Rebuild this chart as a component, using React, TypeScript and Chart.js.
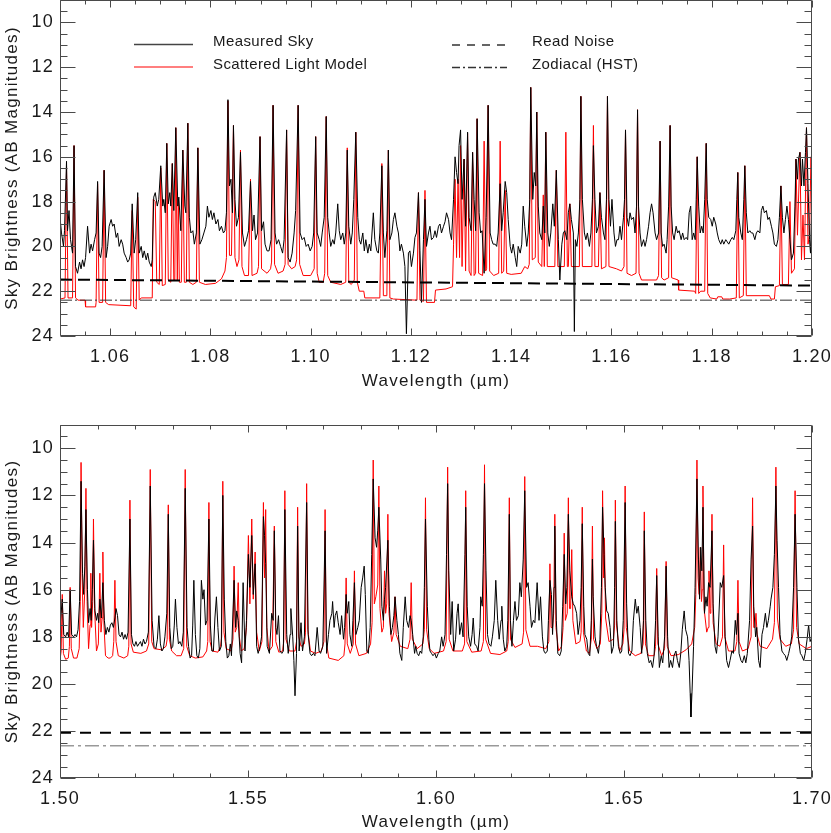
import React, { useEffect, useRef } from 'react';
import { Chart, registerables } from 'chart.js';

Chart.register(...registerables);

// ---------- axes ----------
const yRange = [9, 24];
const yTickLabels = [10, 12, 14, 16, 18, 20, 22, 24];
const topXRange = [1.05, 1.2];
const topXTickLabels = [1.06, 1.08, 1.1, 1.12, 1.14, 1.16, 1.18, 1.2];
const bottomXRange = [1.5, 1.7];
const bottomXTickLabels = [1.5, 1.55, 1.6, 1.65, 1.7];

const legendLabels = ['Measured Sky', 'Scattered Light Model', 'Read Noise', 'Zodiacal (HST)'];
const yTitle = 'Sky Brightness (AB Magnitudes)';
const xTitle = 'Wavelength (\u00b5m)';

// ---------- top panel (1.05 - 1.20 um) ----------
const topMeasured = [
[1.0500,18.7],[1.0503,19.4],[1.0507,20.0],[1.0509,19.3],[1.0513,16.2],[1.0515,19.3],[1.0518,18.4],[1.0521,19.7],[1.0525,20.3],[1.0528,15.5],
[1.0531,20.9],[1.0535,21.2],[1.0539,20.7],[1.0542,21.0],[1.0545,20.6],[1.0548,20.9],[1.0551,20.5],[1.0555,19.1],[1.0559,20.3],[1.0562,19.9],
[1.0565,20.2],[1.0569,19.7],[1.0572,19.4],[1.0575,17.1],[1.0578,20.3],[1.0581,20.5],[1.0584,20.0],[1.0588,16.6],[1.0592,20.5],[1.0595,20.0],
[1.0598,19.1],[1.0602,18.8],[1.0605,19.1],[1.0608,19.0],[1.0612,19.6],[1.0615,19.4],[1.0618,20.0],[1.0622,19.7],[1.0625,19.9],[1.0628,20.3],
[1.0632,20.5],[1.0635,20.7],[1.0638,20.6],[1.0641,20.3],[1.0644,18.1],[1.0648,20.3],[1.0651,19.7],[1.0655,17.6],[1.0658,20.3],[1.0662,20.0],
[1.0665,20.5],[1.0668,20.2],[1.0672,20.6],[1.0675,20.3],[1.0678,20.7],[1.0682,20.9],[1.0684,20.6],[1.0687,17.8],[1.0690,17.6],[1.0694,18.2],
[1.0697,17.9],[1.0701,16.4],[1.0705,18.2],[1.0707,17.9],[1.0710,18.5],[1.0713,15.4],[1.0716,18.1],[1.0719,17.6],[1.0721,18.2],[1.0724,16.3],
[1.0727,18.4],[1.0731,14.7],[1.0735,18.2],[1.0737,17.8],[1.0741,19.3],[1.0745,15.7],[1.0749,18.2],[1.0751,18.5],[1.0755,14.5],[1.0758,18.7],
[1.0761,19.4],[1.0765,19.3],[1.0768,19.9],[1.0772,19.4],[1.0775,15.6],[1.0779,19.9],[1.0783,19.7],[1.0787,19.4],[1.0791,19.1],[1.0794,18.2],
[1.0797,18.7],[1.0801,18.4],[1.0804,18.8],[1.0807,18.5],[1.0811,19.0],[1.0815,18.8],[1.0818,19.3],[1.0822,19.1],[1.0826,19.4],[1.0829,19.3],
[1.0832,18.5],[1.0835,13.45],[1.0838,17.3],[1.0841,17.0],[1.0844,18.5],[1.0846,14.6],[1.0849,17.9],[1.0852,19.1],[1.0856,18.7],[1.0860,15.8],
[1.0864,19.4],[1.0868,20.0],[1.0872,19.7],[1.0876,19.3],[1.0880,17.1],[1.0884,19.3],[1.0887,18.6],[1.0890,19.7],[1.0894,19.4],[1.0899,15.1],
[1.0902,19.3],[1.0906,18.9],[1.0909,19.9],[1.0913,20.2],[1.0917,20.2],[1.0921,19.7],[1.0925,13.7],[1.0929,19.4],[1.0932,19.9],[1.0936,19.7],
[1.0940,20.0],[1.0944,20.3],[1.0947,19.7],[1.0952,14.8],[1.0955,20.5],[1.0959,20.7],[1.0963,20.3],[1.0967,19.4],[1.0970,18.4],[1.0975,13.7],
[1.0979,19.4],[1.0983,19.7],[1.0987,19.6],[1.0991,20.0],[1.0995,19.9],[1.0999,20.2],[1.1003,20.0],[1.1006,19.4],[1.1010,15.1],[1.1013,19.4],
[1.1017,19.7],[1.1020,20.0],[1.1023,19.4],[1.1027,18.7],[1.1031,14.2],[1.1034,18.7],[1.1037,19.4],[1.1040,20.0],[1.1044,19.7],[1.1047,19.9],
[1.1050,19.4],[1.1054,18.1],[1.1057,19.3],[1.1060,19.7],[1.1064,19.4],[1.1067,19.9],[1.1070,19.4],[1.1073,15.7],[1.1076,19.1],[1.1080,19.9],
[1.1083,19.4],[1.1086,17.9],[1.1090,14.9],[1.1094,18.7],[1.1097,19.7],[1.1100,19.9],[1.1104,19.4],[1.1107,20.2],[1.1110,19.7],[1.1114,20.3],
[1.1117,19.9],[1.1120,20.2],[1.1125,18.5],[1.1128,19.7],[1.1132,20.2],[1.1135,20.3],[1.1138,19.4],[1.1142,16.4],[1.1145,19.4],[1.1148,20.5],
[1.1152,19.3],[1.1155,15.7],[1.1158,19.7],[1.1162,19.4],[1.1165,18.8],[1.1168,18.5],[1.1172,19.1],[1.1175,19.4],[1.1178,20.2],[1.1181,19.9],
[1.1185,20.3],[1.1188,20.9],[1.1191,23.9],[1.1195,20.3],[1.1198,20.2],[1.1201,20.9],[1.1205,20.3],[1.1208,19.6],[1.1211,19.4],[1.1215,17.6],
[1.1218,20.2],[1.1221,22.5],[1.1225,19.7],[1.1228,17.9],[1.1231,20.0],[1.1235,19.4],[1.1238,19.1],[1.1241,19.7],[1.1245,19.6],[1.1248,19.3],
[1.1251,19.6],[1.1255,19.1],[1.1258,19.0],[1.1261,19.4],[1.1265,19.1],[1.1268,18.9],[1.1271,18.5],[1.1275,18.8],[1.1278,19.4],[1.1281,19.7],
[1.1285,17.9],[1.1288,16.0],[1.1291,16.7],[1.1294,17.2],[1.1296,15.5],[1.1299,14.8],[1.1302,17.9],[1.1306,16.1],[1.1309,19.1],[1.1313,14.9],
[1.1316,18.7],[1.1320,19.3],[1.1323,15.8],[1.1326,17.9],[1.1329,19.3],[1.1332,14.3],[1.1336,18.5],[1.1339,19.4],[1.1342,19.3],[1.1346,21.2],
[1.1350,18.7],[1.1354,13.7],[1.1358,19.4],[1.1361,19.7],[1.1364,19.9],[1.1368,19.9],[1.1371,20.0],[1.1374,19.4],[1.1378,17.2],[1.1381,19.3],
[1.1384,18.5],[1.1388,17.1],[1.1391,17.6],[1.1394,18.8],[1.1398,20.0],[1.1401,20.3],[1.1404,19.9],[1.1408,20.5],[1.1411,20.9],[1.1414,20.0],
[1.1418,20.3],[1.1421,19.9],[1.1424,18.2],[1.1427,19.1],[1.1431,20.0],[1.1434,19.4],[1.1437,17.9],[1.1439,12.9],[1.1443,17.9],[1.1446,16.7],
[1.1449,17.3],[1.1451,14.0],[1.1454,18.2],[1.1457,19.4],[1.1461,19.7],[1.1464,18.2],[1.1467,19.4],[1.1469,14.9],[1.1473,19.4],[1.1476,20.0],
[1.1479,19.4],[1.1483,18.1],[1.1486,19.1],[1.1490,16.6],[1.1494,19.7],[1.1497,21.5],[1.1501,19.9],[1.1504,19.4],[1.1507,19.3],[1.1511,19.7],
[1.1514,18.5],[1.1517,18.1],[1.1520,18.8],[1.1524,19.4],[1.1526,23.8],[1.1528,19.7],[1.1531,20.0],[1.1534,19.4],[1.1537,17.9],[1.1539,13.3],
[1.1542,17.9],[1.1546,19.4],[1.1549,19.7],[1.1552,19.4],[1.1556,20.0],[1.1559,19.4],[1.1562,17.9],[1.1564,15.5],[1.1567,17.9],[1.1570,19.4],
[1.1574,19.1],[1.1577,17.6],[1.1580,18.7],[1.1584,19.4],[1.1587,19.7],[1.1590,17.9],[1.1592,13.3],[1.1595,17.9],[1.1598,19.1],[1.1601,17.9],
[1.1605,19.4],[1.1608,20.0],[1.1611,19.7],[1.1614,19.7],[1.1617,19.1],[1.1620,19.7],[1.1624,18.7],[1.1626,17.9],[1.1628,14.8],[1.1631,18.7],
[1.1634,19.1],[1.1637,18.5],[1.1640,18.8],[1.1644,18.7],[1.1647,19.4],[1.1650,18.2],[1.1652,13.9],[1.1654,18.2],[1.1657,19.4],[1.1660,20.0],
[1.1664,19.7],[1.1667,20.0],[1.1670,19.7],[1.1674,19.1],[1.1677,18.5],[1.1680,18.1],[1.1683,18.5],[1.1687,19.4],[1.1690,19.7],[1.1694,19.4],
[1.1697,15.3],[1.1699,19.4],[1.1702,20.0],[1.1705,19.9],[1.1709,20.3],[1.1711,19.7],[1.1714,18.2],[1.1717,14.6],[1.1719,18.2],[1.1722,19.4],
[1.1725,19.7],[1.1729,19.1],[1.1732,19.4],[1.1735,19.3],[1.1739,19.7],[1.1742,19.4],[1.1745,19.7],[1.1749,19.6],[1.1752,19.7],[1.1755,18.5],
[1.1758,18.2],[1.1761,19.7],[1.1764,19.4],[1.1767,19.7],[1.1769,17.9],[1.1771,16.0],[1.1774,18.2],[1.1777,19.4],[1.1780,19.1],[1.1783,19.4],
[1.1786,17.9],[1.1789,15.4],[1.1791,17.9],[1.1794,18.7],[1.1798,18.8],[1.1801,19.1],[1.1804,18.7],[1.1808,19.0],[1.1811,19.4],[1.1814,19.7],
[1.1818,19.9],[1.1821,19.7],[1.1824,19.9],[1.1828,19.7],[1.1831,19.8],[1.1834,19.9],[1.1838,19.7],[1.1841,19.6],[1.1844,19.7],[1.1848,19.3],
[1.1850,17.9],[1.1852,16.7],[1.1854,18.7],[1.1858,19.4],[1.1861,19.7],[1.1864,17.9],[1.1866,16.4],[1.1869,18.5],[1.1872,19.4],[1.1876,19.3],
[1.1879,19.4],[1.1882,19.4],[1.1886,19.7],[1.1889,19.4],[1.1892,19.3],[1.1896,19.4],[1.1899,18.4],[1.1902,18.2],[1.1905,18.5],[1.1909,18.4],
[1.1912,18.8],[1.1915,18.7],[1.1919,19.1],[1.1922,19.4],[1.1925,19.9],[1.1929,20.0],[1.1932,19.7],[1.1935,18.7],[1.1938,17.3],[1.1941,18.7],
[1.1944,19.4],[1.1947,18.8],[1.1950,18.2],[1.1953,18.8],[1.1956,19.7],[1.1959,20.6],[1.1963,20.3],[1.1966,18.2],[1.1968,16.1],[1.1971,17.0],
[1.1973,16.1],[1.1976,15.8],[1.1979,17.3],[1.1981,16.1],[1.1984,17.3],[1.1987,15.8],[1.1989,14.7],[1.1992,17.2],[1.1995,19.7],[1.1997,20.3],
[1.2000,17.9]
];

const topModel = [
[1.0500,22.35],[1.0510,22.3],[1.0513,16.4],[1.0516,22.3],[1.0525,22.3],[1.0528,15.5],[1.0531,22.3],[1.0536,22.4],[1.0550,22.4],[1.0551,22.7],
[1.0571,22.7],[1.0572,22.5],[1.0575,17.2],[1.0578,22.5],[1.0585,22.5],[1.0588,16.6],[1.0591,22.5],[1.0597,22.6],[1.0641,22.65],[1.0644,18.4],
[1.0647,22.7],[1.0652,22.8],[1.0655,17.8],[1.0658,22.4],[1.0662,22.3],[1.0684,22.3],[1.0686,17.9],[1.0690,18.0],[1.0693,21.6],[1.0698,21.7],
[1.0701,16.5],[1.0704,21.75],[1.0710,21.7],[1.0713,15.4],[1.0716,21.5],[1.0721,21.6],[1.0724,16.3],[1.0727,21.5],[1.0729,21.5],[1.0731,14.7],
[1.0734,21.5],[1.0736,17.9],[1.0738,21.6],[1.0742,21.6],[1.0745,15.7],[1.0748,21.6],[1.0752,21.6],[1.0755,14.5],[1.0758,21.6],[1.0765,21.7],
[1.0772,21.6],[1.0775,15.6],[1.0778,21.6],[1.0790,21.7],[1.0810,21.65],[1.0822,21.45],[1.0829,21.1],[1.0832,20.5],[1.0835,13.5],[1.0838,20.4],
[1.0842,20.4],[1.0846,14.6],[1.0849,20.5],[1.0853,20.9],[1.0857,20.6],[1.0860,15.7],[1.0863,20.9],[1.0868,21.3],[1.0876,21.3],[1.0880,17.0],
[1.0883,21.3],[1.0893,21.2],[1.0896,20.9],[1.0899,15.1],[1.0902,21.0],[1.0913,21.2],[1.0920,21.0],[1.0922,20.7],[1.0925,13.7],[1.0928,20.8],
[1.0935,21.2],[1.0945,21.1],[1.0949,20.8],[1.0952,14.8],[1.0955,20.8],[1.0962,21.0],[1.0969,20.9],[1.0972,20.6],[1.0975,13.7],[1.0978,20.8],
[1.0985,21.3],[1.1000,21.3],[1.1007,21.0],[1.1010,15.1],[1.1013,21.2],[1.1017,21.6],[1.1025,21.6],[1.1028,21.2],[1.1031,14.2],[1.1034,21.3],
[1.1040,21.6],[1.1060,21.7],[1.1070,21.6],[1.1073,15.6],[1.1076,21.6],[1.1081,21.7],[1.1087,21.5],[1.1090,14.9],[1.1093,21.6],[1.1097,22.0],
[1.1106,22.0],[1.1108,22.3],[1.1138,22.3],[1.1142,16.3],[1.1145,22.2],[1.1152,22.2],[1.1155,15.7],[1.1158,22.3],[1.1165,22.35],[1.1212,22.4],
[1.1215,17.6],[1.1218,22.4],[1.1225,22.45],[1.1228,17.5],[1.1231,22.5],[1.1247,22.5],[1.1249,21.95],[1.1270,21.9],[1.1283,21.8],[1.1285,19.9],
[1.1288,17.0],[1.1291,20.5],[1.1294,17.0],[1.1297,20.5],[1.1299,15.5],[1.1302,20.9],[1.1306,16.1],[1.1309,21.1],[1.1313,14.95],[1.1316,21.1],
[1.1320,21.3],[1.1323,15.8],[1.1326,21.3],[1.1329,21.2],[1.1332,14.3],[1.1335,21.2],[1.1343,21.3],[1.1346,15.3],[1.1349,21.1],[1.1351,21.0],
[1.1354,13.7],[1.1357,21.1],[1.1365,21.3],[1.1375,21.2],[1.1378,15.3],[1.1381,21.2],[1.1385,21.1],[1.1388,17.5],[1.1391,21.2],[1.1400,21.25],
[1.1420,21.2],[1.1427,20.9],[1.1433,21.0],[1.1436,20.8],[1.1439,12.9],[1.1442,20.6],[1.1448,20.5],[1.1451,14.0],[1.1454,20.7],[1.1461,20.9],
[1.1464,17.7],[1.1466,20.9],[1.1469,14.9],[1.1472,20.9],[1.1487,20.9],[1.1490,16.6],[1.1493,20.9],[1.1506,20.9],[1.1509,14.9],[1.1512,20.9],
[1.1514,20.9],[1.1517,18.1],[1.1520,20.9],[1.1536,20.9],[1.1539,13.3],[1.1542,20.9],[1.1561,20.9],[1.1564,14.6],[1.1567,20.9],[1.1574,20.9],
[1.1577,17.6],[1.1580,21.0],[1.1589,20.9],[1.1592,13.3],[1.1595,20.9],[1.1610,21.0],[1.1620,21.1],[1.1625,20.9],[1.1628,14.8],[1.1631,21.2],
[1.1640,21.3],[1.1649,21.2],[1.1652,13.9],[1.1655,21.2],[1.1660,21.5],[1.1690,21.5],[1.1694,21.3],[1.1697,15.3],[1.1700,21.4],[1.1705,21.5],
[1.1714,21.4],[1.1717,14.6],[1.1720,21.4],[1.1733,21.5],[1.1734,21.95],[1.1766,22.0],[1.1768,22.1],[1.1771,16.0],[1.1774,22.1],[1.1778,22.0],
[1.1786,22.0],[1.1789,15.4],[1.1792,22.1],[1.1797,22.3],[1.1810,22.35],[1.1812,22.25],[1.1820,22.25],[1.1822,22.35],[1.1836,22.35],[1.1849,22.3],
[1.1852,16.7],[1.1855,22.3],[1.1863,22.2],[1.1866,16.4],[1.1869,22.2],[1.1915,22.2],[1.1918,22.35],[1.1925,22.35],[1.1927,21.8],[1.1935,21.75],
[1.1938,17.3],[1.1941,21.7],[1.1953,21.7],[1.1956,18.0],[1.1959,21.2],[1.1965,21.0],[1.1968,16.1],[1.1971,19.5],[1.1976,15.8],[1.1979,20.6],
[1.1982,18.6],[1.1985,20.6],[1.1989,14.7],[1.1992,19.9],[1.1995,19.5],[1.1998,16.0],[1.2000,18.5]
];

const topReadNoise = [[1.05, 21.48], [1.2, 21.75]];
const topZodiacal = [[1.05, 22.4], [1.2, 22.4]];

// ---------- bottom panel (1.50 - 1.70 um) ----------
const bottomMeasured = [
[1.5000,17.6],[1.5003,17.0],[1.5006,16.4],[1.5010,17.9],[1.5015,18.0],[1.5019,17.8],[1.5023,18.0],[1.5027,16.0],[1.5031,17.9],[1.5036,18.0],
[1.5040,17.9],[1.5044,18.0],[1.5048,17.7],[1.5052,16.5],[1.5056,11.4],[1.5060,15.3],[1.5063,16.2],[1.5066,15.0],[1.5069,12.6],[1.5073,16.0],
[1.5076,17.4],[1.5080,16.8],[1.5083,17.3],[1.5086,16.0],[1.5089,13.9],[1.5093,16.9],[1.5097,17.3],[1.5100,17.0],[1.5103,17.4],[1.5106,16.4],
[1.5110,17.2],[1.5114,15.7],[1.5118,17.3],[1.5122,17.9],[1.5126,17.6],[1.5130,17.8],[1.5134,17.5],[1.5138,17.4],[1.5142,17.6],[1.5146,17.2],
[1.5149,16.8],[1.5153,17.1],[1.5157,17.9],[1.5161,18.0],[1.5165,17.8],[1.5169,18.1],[1.5173,17.9],[1.5177,18.1],[1.5181,17.8],[1.5186,13.0],
[1.5190,17.9],[1.5194,18.3],[1.5198,18.4],[1.5202,18.2],[1.5206,18.4],[1.5210,18.3],[1.5214,18.2],[1.5218,18.4],[1.5222,18.1],[1.5226,18.3],
[1.5230,18.2],[1.5235,17.8],[1.5240,11.6],[1.5245,17.3],[1.5250,18.4],[1.5255,18.5],[1.5259,18.1],[1.5263,17.1],[1.5267,18.3],[1.5271,18.6],
[1.5275,18.5],[1.5279,18.0],[1.5284,17.0],[1.5288,12.8],[1.5292,17.6],[1.5296,18.5],[1.5300,18.4],[1.5304,17.5],[1.5307,16.4],[1.5311,17.6],
[1.5315,18.3],[1.5319,18.2],[1.5324,18.4],[1.5328,17.8],[1.5333,11.7],[1.5338,17.6],[1.5342,18.4],[1.5346,18.9],[1.5350,18.8],[1.5353,17.5],
[1.5356,15.6],[1.5360,17.9],[1.5364,18.8],[1.5368,18.9],[1.5372,18.5],[1.5376,15.6],[1.5380,16.4],[1.5383,16.0],[1.5387,17.5],[1.5391,17.3],
[1.5396,13.0],[1.5400,17.5],[1.5404,18.6],[1.5408,18.6],[1.5412,17.2],[1.5416,16.3],[1.5420,17.6],[1.5424,18.6],[1.5429,18.4],[1.5433,12.0],
[1.5437,16.4],[1.5441,18.2],[1.5445,18.9],[1.5449,18.8],[1.5453,18.3],[1.5456,18.8],[1.5463,15.6],[1.5467,17.6],[1.5470,16.9],[1.5474,17.3],
[1.5479,18.7],[1.5483,19.1],[1.5487,15.7],[1.5492,18.6],[1.5496,17.3],[1.5501,14.5],[1.5505,15.9],[1.5510,13.7],[1.5514,16.2],[1.5519,14.9],
[1.5523,18.4],[1.5527,18.7],[1.5532,18.4],[1.5536,18.0],[1.5541,12.9],[1.5544,13.7],[1.5547,14.9],[1.5551,18.4],[1.5557,18.7],[1.5563,17.0],
[1.5567,17.3],[1.5570,13.5],[1.5574,17.6],[1.5577,17.9],[1.5581,17.1],[1.5585,18.6],[1.5590,18.7],[1.5594,18.6],[1.5598,12.6],[1.5603,17.9],
[1.5607,18.7],[1.5612,17.9],[1.5614,16.8],[1.5619,18.0],[1.5622,19.0],[1.5625,20.5],[1.5629,18.7],[1.5632,13.3],[1.5636,18.6],[1.5641,17.4],
[1.5645,18.6],[1.5650,18.0],[1.5656,12.3],[1.5660,17.9],[1.5665,18.7],[1.5669,18.8],[1.5674,18.7],[1.5678,18.8],[1.5684,17.6],[1.5689,18.6],
[1.5693,18.7],[1.5699,18.4],[1.5705,13.5],[1.5709,18.7],[1.5714,17.9],[1.5718,17.3],[1.5723,17.0],[1.5725,16.5],[1.5729,17.6],[1.5732,17.1],
[1.5736,16.9],[1.5740,17.4],[1.5745,17.9],[1.5749,17.1],[1.5754,18.1],[1.5757,17.6],[1.5761,16.2],[1.5764,17.0],[1.5768,16.5],[1.5771,17.9],
[1.5776,18.4],[1.5779,17.3],[1.5783,15.7],[1.5787,17.9],[1.5792,17.6],[1.5796,17.3],[1.5801,15.9],[1.5805,15.5],[1.5809,15.0],[1.5812,16.2],
[1.5816,18.6],[1.5820,18.7],[1.5825,17.6],[1.5829,14.5],[1.5833,11.3],[1.5838,13.8],[1.5842,14.2],[1.5845,13.5],[1.5848,12.5],[1.5853,14.7],
[1.5856,16.7],[1.5860,17.3],[1.5863,16.4],[1.5866,15.9],[1.5872,13.9],[1.5876,16.7],[1.5880,17.9],[1.5884,17.6],[1.5888,17.1],[1.5891,16.3],
[1.5896,17.3],[1.5900,17.9],[1.5904,18.7],[1.5909,19.0],[1.5913,17.6],[1.5918,16.3],[1.5922,17.3],[1.5927,17.6],[1.5931,17.1],[1.5934,17.3],
[1.5938,17.9],[1.5943,18.7],[1.5946,18.4],[1.5950,18.7],[1.5954,18.8],[1.5958,18.6],[1.5962,18.7],[1.5966,18.0],[1.5969,15.9],[1.5972,13.0],
[1.5977,16.7],[1.5981,18.1],[1.5984,18.6],[1.5988,18.7],[1.5992,18.8],[1.5997,18.7],[1.6001,18.9],[1.6006,18.7],[1.6010,18.6],[1.6015,18.0],
[1.6019,18.4],[1.6024,17.9],[1.6028,14.5],[1.6031,11.5],[1.6034,15.2],[1.6039,17.9],[1.6043,16.5],[1.6047,18.6],[1.6052,18.1],[1.6056,17.0],
[1.6059,16.6],[1.6063,17.9],[1.6068,17.4],[1.6072,18.0],[1.6077,14.5],[1.6079,12.5],[1.6083,16.7],[1.6087,18.0],[1.6092,18.4],[1.6096,17.9],
[1.6099,17.2],[1.6103,18.3],[1.6108,18.4],[1.6112,18.6],[1.6117,17.6],[1.6119,16.3],[1.6123,16.7],[1.6126,14.5],[1.6129,11.5],[1.6133,15.2],
[1.6137,17.9],[1.6141,18.3],[1.6146,18.4],[1.6150,18.0],[1.6155,17.3],[1.6159,15.6],[1.6164,17.3],[1.6168,18.1],[1.6173,17.3],[1.6175,16.7],
[1.6179,18.1],[1.6183,18.6],[1.6188,18.4],[1.6191,17.3],[1.6195,12.8],[1.6198,17.3],[1.6202,18.4],[1.6206,17.3],[1.6210,16.5],[1.6214,17.3],
[1.6219,17.1],[1.6223,15.7],[1.6227,16.3],[1.6232,14.7],[1.6236,11.8],[1.6241,15.9],[1.6245,15.7],[1.6250,16.7],[1.6254,17.6],[1.6259,17.3],
[1.6263,17.4],[1.6269,15.7],[1.6274,17.3],[1.6278,16.3],[1.6283,18.0],[1.6287,18.6],[1.6291,18.7],[1.6296,18.6],[1.6299,17.3],[1.6303,15.6],
[1.6307,16.2],[1.6310,17.9],[1.6314,15.9],[1.6316,13.3],[1.6320,17.3],[1.6324,18.7],[1.6329,18.8],[1.6333,18.6],[1.6337,16.7],[1.6341,14.5],
[1.6345,16.6],[1.6348,15.9],[1.6352,12.8],[1.6356,15.2],[1.6361,16.3],[1.6365,16.6],[1.6369,16.7],[1.6374,17.0],[1.6378,17.9],[1.6383,17.3],
[1.6386,15.9],[1.6389,13.2],[1.6393,16.7],[1.6396,17.9],[1.6401,18.1],[1.6405,18.7],[1.6409,18.8],[1.6413,17.3],[1.6416,14.7],[1.6418,16.3],
[1.6423,18.0],[1.6427,18.4],[1.6432,18.7],[1.6436,18.1],[1.6440,15.9],[1.6443,12.5],[1.6447,14.5],[1.6450,15.9],[1.6454,16.9],[1.6458,17.0],
[1.6463,17.6],[1.6467,18.7],[1.6472,18.4],[1.6475,15.9],[1.6477,13.1],[1.6481,17.3],[1.6485,18.4],[1.6490,18.7],[1.6494,18.6],[1.6498,17.3],
[1.6503,12.3],[1.6507,16.6],[1.6512,18.7],[1.6516,18.8],[1.6521,18.6],[1.6525,17.3],[1.6530,16.4],[1.6534,17.0],[1.6538,16.7],[1.6543,17.6],
[1.6547,18.7],[1.6552,17.3],[1.6554,13.5],[1.6558,17.3],[1.6562,18.7],[1.6567,19.1],[1.6571,19.0],[1.6576,19.3],[1.6580,18.8],[1.6584,17.3],
[1.6587,15.4],[1.6591,18.0],[1.6594,19.3],[1.6599,18.8],[1.6603,19.1],[1.6608,18.0],[1.6612,15.0],[1.6616,18.0],[1.6620,19.3],[1.6624,19.0],
[1.6629,19.3],[1.6633,18.8],[1.6638,18.6],[1.6642,19.0],[1.6647,19.3],[1.6651,18.7],[1.6655,17.7],[1.6660,16.9],[1.6664,17.7],[1.6669,18.0],
[1.6673,19.0],[1.6676,20.4],[1.6678,21.4],[1.6681,20.3],[1.6685,18.4],[1.6689,15.9],[1.6694,11.3],[1.6698,14.7],[1.6701,16.4],[1.6704,14.2],
[1.6707,15.2],[1.6710,12.5],[1.6714,17.0],[1.6718,16.3],[1.6721,16.7],[1.6725,15.7],[1.6729,15.9],[1.6734,13.5],[1.6737,16.6],[1.6742,18.4],
[1.6746,18.7],[1.6750,18.0],[1.6756,15.7],[1.6760,15.9],[1.6765,15.4],[1.6769,18.0],[1.6773,19.0],[1.6778,19.3],[1.6782,19.0],[1.6787,18.6],
[1.6791,18.7],[1.6796,17.3],[1.6799,17.9],[1.6803,17.0],[1.6806,18.7],[1.6811,19.0],[1.6815,19.1],[1.6820,18.8],[1.6824,19.1],[1.6828,18.7],
[1.6834,17.3],[1.6838,14.7],[1.6842,13.3],[1.6845,16.7],[1.6850,18.0],[1.6853,17.6],[1.6858,19.0],[1.6862,19.3],[1.6867,17.9],[1.6871,17.6],
[1.6876,17.0],[1.6880,17.6],[1.6884,17.3],[1.6889,16.7],[1.6891,16.4],[1.6896,15.9],[1.6900,14.5],[1.6904,11.6],[1.6907,13.9],[1.6911,15.9],
[1.6915,17.9],[1.6920,18.6],[1.6924,18.7],[1.6929,18.8],[1.6933,19.0],[1.6938,18.7],[1.6942,18.4],[1.6946,18.0],[1.6951,15.9],[1.6955,12.8],
[1.6960,15.9],[1.6964,18.1],[1.6969,18.7],[1.6973,18.8],[1.6978,19.0],[1.6982,18.7],[1.6987,18.1],[1.6991,17.5],[1.6995,18.2],[1.7000,18.0]
];

const bottomModel = [
[1.5000,19.0],[1.5003,18.6],[1.5006,16.2],[1.5009,18.7],[1.5015,18.95],[1.5022,18.9],[1.5025,18.4],[1.5027,15.9],[1.5030,18.5],[1.5036,18.9],
[1.5045,18.9],[1.5051,18.5],[1.5054,16.5],[1.5056,10.6],[1.5059,15.5],[1.5062,17.6],[1.5066,16.0],[1.5069,11.7],[1.5072,16.5],[1.5076,18.5],
[1.5080,17.5],[1.5082,15.3],[1.5084,17.6],[1.5087,16.5],[1.5089,13.0],[1.5092,16.8],[1.5097,18.6],[1.5102,18.3],[1.5106,15.3],[1.5109,17.8],
[1.5112,17.2],[1.5114,14.4],[1.5117,17.5],[1.5121,18.8],[1.5128,18.9],[1.5134,18.9],[1.5140,18.8],[1.5143,18.2],[1.5146,15.6],[1.5149,18.2],
[1.5155,18.8],[1.5170,18.9],[1.5180,18.8],[1.5183,18.4],[1.5186,12.2],[1.5189,18.3],[1.5195,18.65],[1.5215,18.7],[1.5230,18.6],[1.5236,18.3],
[1.5240,10.9],[1.5244,18.2],[1.5250,18.5],[1.5270,18.55],[1.5282,18.4],[1.5285,18.1],[1.5288,12.4],[1.5291,18.1],[1.5297,18.6],[1.5310,18.8],
[1.5322,18.8],[1.5329,18.5],[1.5333,10.9],[1.5337,18.4],[1.5345,18.8],[1.5360,18.9],[1.5380,18.85],[1.5390,18.6],[1.5393,18.2],[1.5396,12.3],
[1.5399,18.2],[1.5405,18.6],[1.5420,18.65],[1.5427,18.4],[1.5430,18.0],[1.5433,11.4],[1.5436,17.8],[1.5442,18.5],[1.5455,18.6],[1.5460,18.1],
[1.5463,15.0],[1.5466,17.8],[1.5470,17.6],[1.5474,15.7],[1.5477,18.0],[1.5482,18.6],[1.5490,18.5],[1.5496,17.6],[1.5501,13.7],[1.5505,16.6],
[1.5510,13.0],[1.5514,16.4],[1.5519,14.4],[1.5523,17.8],[1.5530,18.6],[1.5537,18.2],[1.5541,12.3],[1.5544,15.5],[1.5547,12.6],[1.5550,17.6],
[1.5556,18.6],[1.5565,18.4],[1.5570,13.3],[1.5574,18.2],[1.5582,18.65],[1.5592,18.6],[1.5595,18.2],[1.5598,11.8],[1.5601,18.1],[1.5610,18.6],
[1.5625,18.6],[1.5629,18.2],[1.5632,12.5],[1.5635,18.0],[1.5641,18.4],[1.5650,18.3],[1.5653,17.8],[1.5656,11.5],[1.5659,17.7],[1.5666,18.6],
[1.5680,18.7],[1.5695,18.6],[1.5702,18.2],[1.5705,12.6],[1.5708,18.2],[1.5715,18.9],[1.5740,19.0],[1.5755,18.8],[1.5758,18.3],[1.5761,15.5],
[1.5764,18.3],[1.5772,18.7],[1.5780,18.3],[1.5783,15.2],[1.5786,18.3],[1.5795,18.8],[1.5815,18.7],[1.5826,18.3],[1.5830,17.4],[1.5833,10.5],
[1.5836,16.6],[1.5840,16.3],[1.5845,15.8],[1.5848,11.6],[1.5851,16.8],[1.5856,17.8],[1.5860,17.6],[1.5863,15.2],[1.5866,17.0],[1.5869,16.6],
[1.5872,12.8],[1.5875,17.0],[1.5882,18.2],[1.5888,17.8],[1.5891,16.3],[1.5894,17.9],[1.5905,18.4],[1.5925,18.5],[1.5931,18.1],[1.5934,15.7],
[1.5937,18.1],[1.5950,18.5],[1.5965,18.3],[1.5969,17.7],[1.5972,12.1],[1.5975,17.7],[1.5982,18.5],[1.5995,18.7],[1.6020,18.6],[1.6027,18.2],
[1.6031,10.8],[1.6035,18.1],[1.6045,18.6],[1.6070,18.6],[1.6076,18.3],[1.6079,11.8],[1.6082,18.2],[1.6095,18.65],[1.6120,18.6],[1.6126,18.2],
[1.6129,10.7],[1.6132,18.1],[1.6145,18.7],[1.6170,18.75],[1.6188,18.6],[1.6192,18.2],[1.6195,12.1],[1.6198,18.1],[1.6210,18.45],[1.6229,18.3],
[1.6233,17.8],[1.6236,11.2],[1.6239,17.7],[1.6250,18.4],[1.6270,18.4],[1.6292,18.5],[1.6300,18.2],[1.6303,14.9],[1.6306,17.6],[1.6310,17.6],
[1.6313,17.0],[1.6316,12.8],[1.6319,17.6],[1.6326,18.6],[1.6334,18.4],[1.6338,17.6],[1.6341,13.6],[1.6344,17.3],[1.6349,17.0],[1.6352,12.1],
[1.6355,16.8],[1.6358,16.8],[1.6361,14.3],[1.6364,17.3],[1.6372,18.3],[1.6383,18.2],[1.6386,17.8],[1.6389,12.5],[1.6392,17.8],[1.6400,18.6],
[1.6408,18.7],[1.6413,18.1],[1.6416,13.3],[1.6419,18.1],[1.6428,18.5],[1.6437,18.3],[1.6441,17.0],[1.6443,11.8],[1.6446,15.5],[1.6448,13.8],
[1.6451,17.2],[1.6460,18.2],[1.6472,18.1],[1.6475,17.5],[1.6477,12.2],[1.6480,17.5],[1.6488,18.6],[1.6497,18.3],[1.6500,17.7],[1.6503,11.6],
[1.6506,17.6],[1.6515,18.6],[1.6530,18.8],[1.6545,18.7],[1.6551,18.3],[1.6554,12.7],[1.6557,18.3],[1.6565,18.8],[1.6580,18.8],[1.6584,18.4],
[1.6587,15.1],[1.6590,18.3],[1.6600,18.8],[1.6608,18.5],[1.6612,14.8],[1.6615,18.4],[1.6625,18.8],[1.6645,18.75],[1.6665,18.55],[1.6680,18.3],
[1.6688,17.6],[1.6691,16.2],[1.6694,10.5],[1.6697,15.5],[1.6700,16.2],[1.6703,14.2],[1.6706,16.5],[1.6708,16.0],[1.6710,11.6],[1.6713,16.8],
[1.6720,17.8],[1.6724,17.6],[1.6726,15.2],[1.6729,17.0],[1.6731,16.8],[1.6734,12.8],[1.6737,17.4],[1.6745,18.3],[1.6755,18.4],[1.6762,18.0],
[1.6765,14.1],[1.6768,18.0],[1.6778,18.6],[1.6795,18.6],[1.6800,18.2],[1.6803,15.6],[1.6806,18.2],[1.6815,18.6],[1.6830,18.5],[1.6838,18.0],
[1.6842,12.1],[1.6845,17.6],[1.6848,17.6],[1.6851,17.0],[1.6854,17.9],[1.6862,18.4],[1.6880,18.5],[1.6895,18.1],[1.6900,17.4],[1.6904,10.8],
[1.6908,17.2],[1.6915,18.1],[1.6930,18.4],[1.6945,18.3],[1.6951,17.7],[1.6955,11.8],[1.6959,17.6],[1.6966,18.3],[1.6985,18.5],[1.7000,18.4]
];

const bottomReadNoise = [[1.5, 22.07], [1.7, 22.07]];
const bottomZodiacal = [[1.5, 22.62], [1.7, 22.62]];

// ---------- rendering ----------
const FONT = '"Liberation Sans", Arial, Helvetica, sans-serif';
const TEXT = '#1a1a1a';

const toPts = (arr: number[][]) => arr.map(([x, y]) => ({ x, y }));

type Panel = {
  xRange: number[];
  xTicks: number[];
  xMinorStep: number;
  padTop: number;
  xAxisHeight: number;
  titlePadBottom: number;
  measured: number[][];
  model: number[][];
  readNoise: number[][];
  zodiacal: number[][];
  readDash: number[];
  zodiDash: number[];
  zodiColor: string;
  zodiWidth: number;
  legend: boolean;
};

const zeroPadding = (s: any) => {
  s.paddingLeft = 0;
  s.paddingRight = 0;
  s.paddingTop = 0;
  s.paddingBottom = 0;
};

function framePlugin(p: Panel) {
  return {
    id: 'frameTicks',
    beforeDraw(chart: any) {
      chart.ctx.letterSpacing = '1.3px';
    },
    afterDraw(chart: any) {
      const { ctx, chartArea: a } = chart;
      const xs = chart.scales.x;
      const ys = chart.scales.y;
      ctx.save();
      ctx.letterSpacing = '0px';
      ctx.setLineDash([]);
      ctx.strokeStyle = '#4a4a4a';
      ctx.lineWidth = 1;
      const L = Math.round(a.left) + 0.5;
      const R = Math.round(a.right) - 0.5;
      const T = Math.round(a.top) + 0.5;
      const B = Math.round(a.bottom) - 0.5;
      ctx.beginPath();
      ctx.rect(L, T, R - L, B - T);
      const nx = Math.round((p.xRange[1] - p.xRange[0]) / p.xMinorStep);
      for (let i = 0; i <= nx; i++) {
        const v = p.xRange[0] + i * p.xMinorStep;
        const px = Math.round(xs.getPixelForValue(v)) + 0.5;
        const major = p.xTicks.some((m) => Math.abs(m - v) < 1e-6);
        const len = major ? 7 : 4;
        ctx.moveTo(px, B);
        ctx.lineTo(px, B - len);
        ctx.moveTo(px, T);
        ctx.lineTo(px, T + len);
      }
      const ny = Math.round((yRange[1] - yRange[0]) / 0.5);
      for (let i = 0; i <= ny; i++) {
        const v = yRange[0] + i * 0.5;
        const py = Math.round(ys.getPixelForValue(v)) + 0.5;
        const major = yTickLabels.includes(v);
        const len = major ? 15 : 7;
        ctx.moveTo(L, py);
        ctx.lineTo(L + len, py);
        ctx.moveTo(R, py);
        ctx.lineTo(R - len, py);
      }
      ctx.stroke();

      if (p.legend) {
        const seg = (x1: number, x2: number, y: number) => {
          ctx.beginPath();
          ctx.moveTo(x1, y);
          ctx.lineTo(x2, y);
          ctx.stroke();
        };
        ctx.lineWidth = 1.4;
        ctx.strokeStyle = '#444';
        seg(134, 193, 44.5);
        ctx.strokeStyle = '#ff0000';
        ctx.lineWidth = 1.2;
        seg(134, 193, 67);
        ctx.strokeStyle = '#333';
        ctx.lineWidth = 1.4;
        ctx.setLineDash([8, 7]);
        seg(452, 507, 45);
        ctx.setLineDash([8, 3, 2, 3]);
        seg(452, 507, 67.5);
        ctx.setLineDash([]);
        ctx.fillStyle = TEXT;
        ctx.font = '15px ' + FONT;
        ctx.letterSpacing = '0.4px';
        ctx.textAlign = 'left';
        ctx.textBaseline = 'alphabetic';
        ctx.fillText(legendLabels[0], 213, 45.5);
        ctx.fillText(legendLabels[1], 213, 68.5);
        ctx.fillText(legendLabels[2], 532, 45.5);
        ctx.fillText(legendLabels[3], 532, 68.5);
      }
      ctx.restore();
    },
  };
}

function makeChart(canvas: HTMLCanvasElement, p: Panel) {
  return new Chart(canvas, {
    type: 'line',
    data: {
      datasets: [
        {
          data: toPts(p.measured),
          borderColor: '#000000',
          borderWidth: 1,
          pointRadius: 0,
          tension: 0,
          order: 1,
        },
        {
          data: toPts(p.model),
          borderColor: '#ff0000',
          borderWidth: 1,
          pointRadius: 0,
          tension: 0,
          order: 2,
        },
        {
          data: toPts(p.readNoise),
          borderColor: '#000000',
          borderWidth: 2,
          borderDash: p.readDash,
          pointRadius: 0,
          order: 0,
        },
        {
          data: toPts(p.zodiacal),
          borderColor: p.zodiColor,
          borderWidth: p.zodiWidth,
          borderDash: p.zodiDash,
          pointRadius: 0,
          order: 0,
        },
      ] as any,
    },
    options: {
      responsive: false,
      animation: false,
      devicePixelRatio: 1,
      events: [],
      layout: { autoPadding: false, padding: { left: 0, right: 19, top: p.padTop, bottom: 0 } } as any,
      plugins: { legend: { display: false }, tooltip: { enabled: false } },
      scales: {
        x: {
          type: 'linear',
          position: 'bottom',
          min: p.xRange[0],
          max: p.xRange[1],
          grid: { display: false, drawTicks: false },
          border: { display: false },
          afterBuildTicks: (s: any) => {
            s.ticks = p.xTicks.map((v) => ({ value: v }));
          },
          afterFit: (s: any) => {
            s.height = p.xAxisHeight;
            zeroPadding(s);
          },
          ticks: {
            autoSkip: false,
            maxRotation: 0,
            padding: 10,
            color: TEXT,
            font: { family: FONT, size: 18 },
            callback: (v: any) => Number(v).toFixed(2),
          },
          title: {
            display: true,
            text: xTitle,
            color: TEXT,
            font: { family: FONT, size: 17 },
            padding: { top: 0, bottom: p.titlePadBottom },
          },
        },
        y: {
          type: 'linear',
          position: 'left',
          reverse: true,
          min: yRange[0],
          max: yRange[1],
          grid: { display: false, drawTicks: false },
          border: { display: false },
          afterBuildTicks: (s: any) => {
            s.ticks = yTickLabels.map((v) => ({ value: v }));
          },
          afterFit: (s: any) => {
            s.width = 60;
            zeroPadding(s);
          },
          ticks: {
            autoSkip: false,
            padding: 6,
            color: TEXT,
            font: { family: FONT, size: 18 },
            callback: (v: any) => String(v),
          },
          title: {
            display: true,
            text: yTitle,
            color: TEXT,
            font: { family: FONT, size: 17 },
            padding: { top: 2, bottom: 0 },
          },
        },
      },
    } as any,
    plugins: [framePlugin(p)],
  });
}

export default function App() {
  const topRef = useRef<HTMLCanvasElement>(null);
  const botRef = useRef<HTMLCanvasElement>(null);

  useEffect(() => {
    const top = makeChart(topRef.current as HTMLCanvasElement, {
      xRange: topXRange,
      xTicks: topXTickLabels,
      xMinorStep: 0.005,
      padTop: 0,
      xAxisHeight: 76,
      titlePadBottom: 20.8,
      measured: topMeasured,
      model: topModel,
      readNoise: topReadNoise,
      zodiacal: topZodiacal,
      readDash: [12, 6],
      zodiDash: [12, 3, 2, 3],
      zodiColor: '#333333',
      zodiWidth: 1,
      legend: true,
    });
    const bottom = makeChart(botRef.current as HTMLCanvasElement, {
      xRange: bottomXRange,
      xTicks: bottomXTickLabels,
      xMinorStep: 0.01,
      padTop: 12.7,
      xAxisHeight: 54.7,
      titlePadBottom: 0.8,
      measured: bottomMeasured,
      model: bottomModel,
      readNoise: bottomReadNoise,
      zodiacal: bottomZodiacal,
      readDash: [11, 9],
      zodiDash: [14, 4, 3, 4],
      zodiColor: '#999999',
      zodiWidth: 1.5,
      legend: false,
    });
    return () => {
      top.destroy();
      bottom.destroy();
    };
  }, []);

  return (
    <div style={{ position: 'absolute', left: 0, top: 0, width: 831, height: 833, background: '#ffffff' }}>
      <canvas
        ref={topRef}
        width={831}
        height={412}
        style={{ position: 'absolute', left: 0, top: 0, width: 831, height: 412 }}
      />
      <canvas
        ref={botRef}
        width={831}
        height={421}
        style={{ position: 'absolute', left: 0, top: 412, width: 831, height: 421 }}
      />
    </div>
  );
}
